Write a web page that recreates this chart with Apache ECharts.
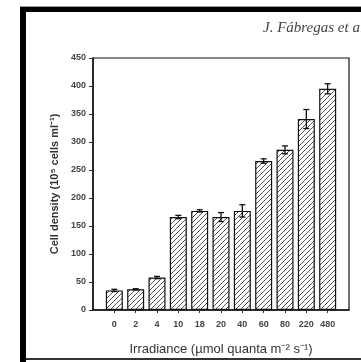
<!DOCTYPE html>
<html><head><meta charset="utf-8">
<script src="https://cdn.jsdelivr.net/npm/echarts@6/dist/echarts.min.js"></script>
<style>html,body{margin:0;padding:0;background:#fff}#c{width:361px;height:362px}</style>
</head><body><div id="c"></div>
<script>
var categories = ['0','2','4','10','18','20','40','60','80','220','480'];
var cellDensity = [35, 37, 58, 166, 177, 166, 177, 266, 286, 341, 395];
var errors = [2, 1, 2, 3, 2, 8, 11, 4, 7, 17, 9];
var yTicks = [0, 50, 100, 150, 200, 250, 300, 350, 400, 450];

function hatch() {
  var c = document.createElement('canvas');
  c.width = 5; c.height = 5;
  var g = c.getContext('2d');
  g.fillStyle = '#fff'; g.fillRect(0, 0, 5, 5);
  g.strokeStyle = '#555'; g.lineWidth = 1;
  g.beginPath();
  g.moveTo(-1, 6); g.lineTo(6, -1);
  g.moveTo(-1, 1); g.lineTo(1, -1);
  g.moveTo(4, 6); g.lineTo(6, 4);
  g.stroke();
  return c;
}

var chart = echarts.init(document.getElementById('c'), null, {renderer: 'canvas'});
var barData = cellDensity.map(function (v, i) { return [i, v]; });
var errData = cellDensity.map(function (v, i) { return [i, v - errors[i], v + errors[i]]; });
var lblFont = {fontFamily: 'Liberation Sans', fontSize: 9, fontWeight: 'bold', color: '#444'};
var idx = categories.map(function (c, i) { return i; });

chart.setOption({
  animation: false,
  backgroundColor: '#fff',
  grid: {left: 93, right: 12, top: 58, bottom: 52, show: true, borderColor: '#111', borderWidth: 1.2},
  xAxis: {
    type: 'value', min: -1, max: 11, interval: 1,
    splitLine: {show: false},
    axisLine: {show: true, onZero: false, lineStyle: {color: '#111', width: 1.5}},
    axisTick: {show: true, length: 3, lineStyle: {color: '#333'}, customValues: idx},
    axisLabel: Object.assign({margin: 10, customValues: idx,
      formatter: function (v) { return categories[v] !== undefined ? categories[v] : ''; }}, lblFont),
    name: 'Irradiance (µmol quanta m⁻² s⁻¹)', nameLocation: 'middle', nameGap: 33,
    nameTextStyle: {fontFamily: 'Liberation Sans', fontSize: 13, color: '#333'}
  },
  yAxis: {
    type: 'value', min: 0, max: 450, interval: 50,
    splitLine: {show: false},
    axisLine: {show: true, onZero: false, lineStyle: {color: '#111', width: 1.5}},
    axisTick: {show: true, length: 4, lineStyle: {color: '#333'}},
    axisLabel: Object.assign({margin: 7, formatter: function (v) { return yTicks.indexOf(v) >= 0 ? String(v) : ''; }}, lblFont),
    name: 'Cell density (10⁵ cells ml⁻¹)', nameLocation: 'middle', nameGap: 26, nameRotate: 90,
    nameTextStyle: {fontFamily: 'Liberation Sans', fontSize: 11, fontWeight: 'bold', color: '#333'}
  },
  series: [
    {
      type: 'bar', data: barData, barWidth: 17,
      itemStyle: {color: {image: hatch(), repeat: 'repeat'}, borderColor: '#111', borderWidth: 1.2}
    },
    {
      type: 'custom', data: errData, z: 5,
      renderItem: function (params, api) {
        var x = api.value(0);
        var lo = api.coord([x, api.value(1)]);
        var hi = api.coord([x, api.value(2)]);
        var w = 3;
        var st = {stroke: '#111', lineWidth: 1.3};
        return {type: 'group', children: [
          {type: 'line', shape: {x1: lo[0], y1: lo[1], x2: hi[0], y2: hi[1]}, style: st},
          {type: 'line', shape: {x1: hi[0] - w, y1: hi[1], x2: hi[0] + w, y2: hi[1]}, style: st},
          {type: 'line', shape: {x1: lo[0] - w, y1: lo[1], x2: lo[0] + w, y2: lo[1]}, style: st}
        ]};
      }
    }
  ],
  graphic: [
    {type: 'rect', shape: {x: 20, y: 7, width: 6, height: 355}, style: {fill: '#000'}},
    {type: 'rect', shape: {x: 20, y: 7, width: 341, height: 5}, style: {fill: '#000'}},
    {type: 'rect', shape: {x: 20, y: 6, width: 341, height: 1}, style: {fill: '#999'}},
    {type: 'rect', shape: {x: 26, y: 358, width: 335, height: 2}, style: {fill: '#333'}},
    {type: 'text', x: 263, y: 21, style: {text: 'J. Fábregas et al.', font: 'italic 15px "Liberation Serif"', fill: '#444'}}
  ]
});
</script></body></html>
